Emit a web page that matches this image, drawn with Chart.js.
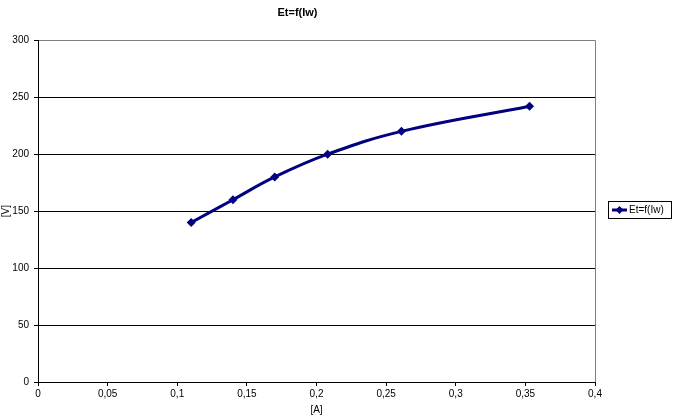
<!DOCTYPE html>
<html><head><meta charset="utf-8">
<script src="https://cdn.jsdelivr.net/npm/chart.js@4/dist/chart.umd.min.js"></script>
<style>html,body{margin:0;padding:0;background:#fff}#wrap{width:673px;height:419px;position:relative}</style>
</head><body><div id="wrap"><canvas id="c" width="673" height="419"></canvas></div>
<script>
const currentA = [0.110, 0.140, 0.170, 0.208, 0.261, 0.353];
const voltageV = [140, 160, 180, 200, 220, 242];
const xTickLabels = ['0','0,05','0,1','0,15','0,2','0,25','0,3','0,35','0,4'];
const yTickLabels = ['0','50','100','150','200','250','300'];
const seriesName = 'Et=f(Iw)';
const chartTitle = 'Et=f(Iw)';

const FONT = '"Liberation Sans", Arial, sans-serif';
const NAVY = '#000080';

const legendPlugin = {
  id: 'boxLegend',
  afterDraw(chart) {
    const ctx = chart.ctx;
    const x = 608.5, y = 201.5, w = 63, h = 17;
    ctx.save();
    ctx.fillStyle = '#fff';
    ctx.fillRect(x, y, w, h);
    ctx.strokeStyle = '#000';
    ctx.lineWidth = 1;
    ctx.strokeRect(x, y, w, h);
    const cy = y + h / 2;
    ctx.strokeStyle = NAVY;
    ctx.lineWidth = 3;
    ctx.beginPath(); ctx.moveTo(612, cy); ctx.lineTo(627, cy); ctx.stroke();
    ctx.fillStyle = NAVY;
    ctx.beginPath();
    ctx.moveTo(619.5, cy - 4); ctx.lineTo(623.5, cy); ctx.lineTo(619.5, cy + 4); ctx.lineTo(615.5, cy); ctx.closePath(); ctx.fill();
    ctx.fillStyle = '#000';
    ctx.font = '10px ' + FONT;
    ctx.textBaseline = 'middle';
    ctx.fillText(seriesName, 629, cy + 0.5);
    ctx.restore();
  }
};

new Chart(document.getElementById('c'), {
  type: 'scatter',
  data: {
    datasets: [{
      label: seriesName,
      data: currentA.map((v, i) => ({x: v, y: voltageV[i]})),
      showLine: true,
      borderColor: NAVY,
      backgroundColor: NAVY,
      borderWidth: 3,
      tension: 0.4,
      pointStyle: 'rectRot',
      pointRadius: 4.5,
      pointHoverRadius: 4.5,
      pointBorderWidth: 0
    }]
  },
  options: {
    responsive: false,
    animation: false,
    devicePixelRatio: 1,
    layout: {padding: {left: 0, right: 78, top: 0, bottom: 0}},
    plugins: {
      legend: {display: false},
      tooltip: {enabled: false},
      title: {
        display: true, text: chartTitle, color: '#000',
        font: {family: FONT, size: 11, weight: 'bold'},
        padding: {top: 6, bottom: 21}
      }
    },
    scales: {
      x: {
        type: 'linear', min: 0, max: 0.4,
        afterFit(s) { s.height = 37; },
        afterBuildTicks(s) { s.ticks = xTickLabels.map((_, i) => ({value: i * 0.05})); },
        ticks: {
          color: '#000', font: {family: FONT, size: 10}, padding: 2,
          maxRotation: 0, autoSkip: false,
          callback: (v, i) => xTickLabels[i]
        },
        grid: {
          drawOnChartArea: true,
          color: c => (c.tick && Math.abs(c.tick.value - 0.4) < 1e-9) ? '#808080' : 'rgba(0,0,0,0)',
          tickColor: '#000', tickLength: 4, lineWidth: 1
        },
        border: {color: '#000', width: 1},
        title: {display: true, text: '[A]', color: '#000', font: {family: FONT, size: 10}, padding: {top: 4, bottom: 3}}
      },
      y: {
        type: 'linear', min: 0, max: 300,
        afterFit(s) { s.width = 38; },
        afterBuildTicks(s) { s.ticks = yTickLabels.map((_, i) => ({value: i * 50})); },
        ticks: {
          color: '#000', font: {family: FONT, size: 10}, padding: 5,
          callback: (v, i) => yTickLabels[i]
        },
        grid: {
          color: c => (c.tick && c.tick.value === 300) ? '#808080' : '#000',
          tickColor: '#000', tickLength: 4, lineWidth: 1
        },
        border: {color: '#000', width: 1},
        title: {display: true, text: '[V]', color: '#000', font: {family: FONT, size: 10}, padding: {top: 0, bottom: 0}}
      }
    }
  },
  plugins: [legendPlugin]
});
</script></body></html>
